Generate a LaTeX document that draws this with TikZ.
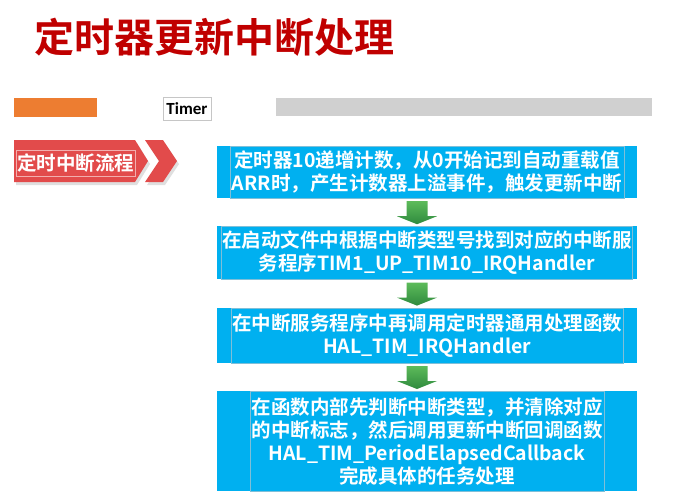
\documentclass[tikz,border=0pt]{standalone}
\usepackage{fontspec}
\newfontfamily\cjk{Noto Sans CJK SC}[BoldFont={* Bold}]
\setsansfont{Carlito}
\usepackage{tikz}
\usetikzlibrary{positioning, calc, shadows}
\definecolor{TitleRed}{HTML}{C00000}
\definecolor{BarOrange}{HTML}{ED7D31}
\definecolor{BarGray}{HTML}{D0D0D0}
\definecolor{ChevRed}{HTML}{E24B4B}
\definecolor{StepBlue}{HTML}{00B0F0}
\definecolor{FrameBlue}{HTML}{7FBFD8}
\definecolor{ArrowTop}{HTML}{5DBB5A}
\definecolor{ArrowBot}{HTML}{2F8A3E}
\tikzset{
    titletext/.style={inner sep=0pt, text=TitleRed, font=\cjk\bfseries\fontsize{40}{42}\selectfont},
    bar/.style={rectangle, inner sep=0pt, minimum height=19pt},
    tagbox/.style={rectangle, draw=gray!45, fill=white, minimum width=48pt, minimum height=23pt,
        inner sep=0pt, font=\sffamily\bfseries\fontsize{17}{18}\selectfont},
    flowlabel/.style={rectangle, draw=white!55!ChevRed, line width=0.5pt, minimum width=119pt,
        minimum height=26pt, inner sep=0pt, text=white, font=\cjk\bfseries\fontsize{19.5}{20}\selectfont},
    stepbox/.style={rectangle, fill=StepBlue, minimum width=420pt, inner sep=0pt, align=center,
        text=white, font=\cjk\bfseries\fontsize{19.5}{23}\selectfont},
    textframe/.style={rectangle, draw=FrameBlue, line width=0.6pt, inner sep=0pt},
    downarrow/.style={top color=ArrowTop, bottom color=ArrowBot, draw=none},
}
\begin{document}
\begin{tikzpicture}[x=1pt, y=-1pt]
    \useasboundingbox (0,0) rectangle (690,501);
    % title
    \node[titletext] (title) at (214,37) {定时器更新中断处理};

    % header bars
    \node[bar, fill=BarOrange, minimum width=83pt] (orange) at (55.5,107.5) {};
    \node[tagbox] (timer) at (187,108.5) {Timer};
    \node[bar, fill=BarGray, minimum width=376pt, minimum height=18pt] (grey) at (464,107) {};

    % chevron tag
    \fill[ChevRed, drop shadow={opacity=0.25, shadow xshift=2pt, shadow yshift=-3pt}]
        (14,140) -- (135,140) -- (148,161) -- (135,182) -- (14,182) -- cycle;
    \fill[ChevRed, drop shadow={opacity=0.25, shadow xshift=2pt, shadow yshift=-3pt}]
        (145,140) -- (163,140) -- (177,161) -- (163,182) -- (145,182) -- (159,161) -- cycle;
    \node[flowlabel] (flow) at (75.5,163) {定时中断流程};

    % flow steps
    \node[stepbox, minimum height=52pt] (b1) at (427,172)
        {定时器10递增计数，从0开始记到自动重载值\\ARR时，产生计数器上溢事件，触发更新中断};
    \node[textframe, minimum width=394pt, minimum height=52pt] (f1) at (b1) {};

    \node[stepbox, minimum height=53pt, below=28pt of b1] (b2)
        {在启动文件中根据中断类型号找到对应的中断服\\务程序TIM1\_UP\_TIM10\_IRQHandler};
    \node[textframe, minimum width=411pt, minimum height=53pt] (f2) at (b2) {};

    \node[stepbox, minimum height=55pt, below=28pt of b2] (b3)
        {在中断服务程序中再调用定时器通用处理函数\\HAL\_TIM\_IRQHandler};
    \node[textframe, minimum width=392pt, minimum height=55pt] (f3) at (b3) {};

    \node[stepbox, minimum height=100pt, below=28pt of b3] (b4)
        {在函数内部先判断中断类型，并清除对应\\的中断标志，然后调用更新中断回调函数\\HAL\_TIM\_PeriodElapsedCallback\\完成具体的任务处理};
    \node[textframe, minimum width=354pt, minimum height=100pt] (f4) at (b4) {};

    % green block arrows
    \shade[downarrow] ($(b1.south)+(-20.5,3)$) -- ++(21,0) -- ($(b2.north)+(0.5,-10)$) -- ($(b2.north)+(10,-10)$)
        -- ($(b2.north)+(-10,-2)$) -- ($(b2.north)+(-30,-10)$) -- ($(b2.north)+(-20.5,-10)$) -- cycle;
    \shade[downarrow] ($(b2.south)+(-20.5,3)$) -- ++(21,0) -- ($(b3.north)+(0.5,-10)$) -- ($(b3.north)+(10,-10)$)
        -- ($(b3.north)+(-10,-2)$) -- ($(b3.north)+(-30,-10)$) -- ($(b3.north)+(-20.5,-10)$) -- cycle;
    \shade[downarrow] ($(b3.south)+(-20.5,3)$) -- ++(21,0) -- ($(b4.north)+(0.5,-10)$) -- ($(b4.north)+(10,-10)$)
        -- ($(b4.north)+(-10,-2)$) -- ($(b4.north)+(-30,-10)$) -- ($(b4.north)+(-20.5,-10)$) -- cycle;
\end{tikzpicture}
\end{document}
